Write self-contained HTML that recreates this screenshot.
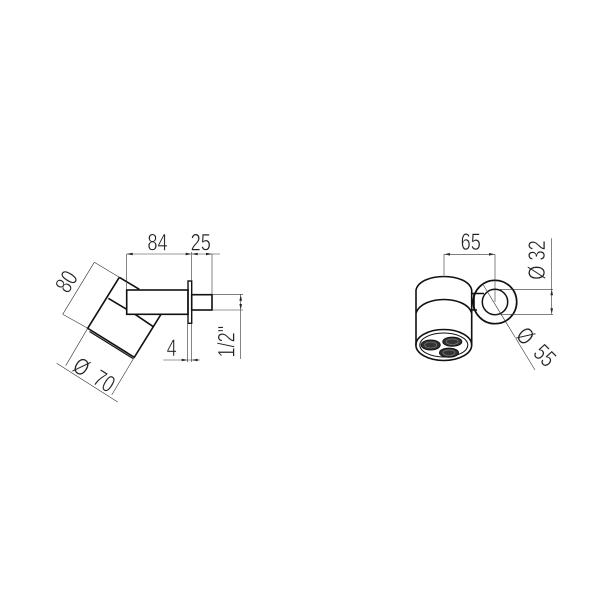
<!DOCTYPE html>
<html><head><meta charset="utf-8"><style>
html,body{margin:0;padding:0;background:#fff}
svg{display:block}
text{font-family:"Liberation Sans",sans-serif;font-size:24px;fill:#222;stroke:#fff;stroke-width:.5px;text-anchor:middle;dominant-baseline:central}
.k{stroke:#111;stroke-width:1.6;fill:none}
.d{stroke:#333;stroke-width:.6;fill:none}
.a{fill:#222;stroke:none}
</style></head><body>
<svg width="610" height="610" viewBox="0 0 610 610" xmlns="http://www.w3.org/2000/svg">
<rect width="610" height="610" fill="#fff"/>
<!-- left view -->
<g class="k">
<path d="M119.3 277.3L87.7 328.3L134.3 357.3L161 314.3"/>
<path d="M119.3 277.3L139.3 289.3M135 314.3L153.3 326.7M108.3 298.3L126.7 309.3"/>
<path d="M89.5 331.5L133 358.5" stroke-width="1.2"/>
<rect x="126.7" y="290" width="61.3" height="24.3"/>
<rect x="188" y="281" width="3.7" height="42.3" stroke-width="1.4"/>
<rect x="191.7" y="294.7" width="20.3" height="15.3"/>
</g>
<g class="d">
<path d="M126.7 254H188M191.7 254H220M126.7 254V290M191.7 252V281M212 254V294.7"/>
<path d="M94.3 262.3L62.7 314.3M94.3 262.3L119.3 277.3M62.7 314.3L87.7 328.3"/>
<path d="M56.7 363.3L117.7 402M87.7 328.3L65.7 365.7M134.3 357.3L111.7 395"/>
<path d="M163.3 360H200M187.7 323V362M191.7 323V362"/>
<path d="M212 294.7H243M212 310H243M240.7 294V359"/>
</g>
<g class="a">
<path d="M126.7 254l6-1.3v2.6zM191.7 254l-6-1.3v2.6zM191.7 254l6-1.3v2.6zM212 254l-6-1.3v2.6z"/>
<path d="M187.7 360l-6-1.3v2.6zM191.7 360l6-1.3v2.6z"/>
<path d="M240.7 294.7l-1.3 6h2.6zM240.7 310l-1.3-6h2.6z"/>
<path d="M444 254.3l6-1.3v2.6zM495 254.3l-6-1.3v2.6z"/>
<path d="M551.7 289.3l-1.3 6h2.6zM551.7 314.3l-1.3-6h2.6z"/>
</g>
<text transform="translate(157.5 242.5) scale(.76 1)">84</text>
<text transform="translate(200.7 242.5) scale(.76 1)">25</text>
<text transform="translate(171.7 348) scale(.76 1)">4</text>
<text transform="translate(226.7 341.7) rotate(-90) scale(.76 1)">1/2"</text>
<text transform="translate(66.7 281.7) rotate(-58) scale(.76 1)">80</text>
<text transform="translate(94 375) rotate(32) scale(.76 1)" style="word-spacing:6px">Ø 70</text>
<!-- right view -->
<g class="k">
<circle cx="495" cy="302" r="21.7" stroke-width="1.7"/>
<circle cx="495" cy="302" r="12.7" stroke-width="1.5"/>
<path d="M416 290C420 272 468 272 471.7 290"/>
<path d="M416 313C422 295 466 295 471.7 313"/>
<path d="M416 290V345M471.7 290V345"/>
<ellipse cx="443.8" cy="345" rx="27.9" ry="15.5"/>
<ellipse cx="443.8" cy="345" rx="24" ry="12" stroke-width="1"/>
<path d="M471.7 293.5H484M471.7 310H477M474 293.5V310"/>
</g>
<g fill="#333" stroke="#111" stroke-width="1">
<ellipse cx="430.7" cy="345" rx="9.5" ry="5"/>
<ellipse cx="452.3" cy="341.7" rx="9.5" ry="4.6"/>
<ellipse cx="449" cy="352.7" rx="9.5" ry="4.6"/>
</g>
<g fill="none" stroke="#888" stroke-width=".6">
<ellipse cx="430.7" cy="345" rx="6" ry="3"/>
<ellipse cx="452.3" cy="341.7" rx="6" ry="2.8"/>
<ellipse cx="449" cy="352.7" rx="6" ry="2.8"/>
</g>
<g class="d">
<path d="M444 254.3H495M444 254.3V275M495 254.3V302"/>
<path d="M500 289.3H553M495 314.3H553M551.7 238.3V314.3"/>
<path d="M483.3 285L535 370"/>
</g>
<text transform="translate(470.7 242.3) scale(.76 1)">65</text>
<text transform="translate(537 260) rotate(-90) scale(.76 1)">Ø 32</text>
<text transform="translate(536 347) rotate(45) scale(.76 1)" style="word-spacing:7px">Ø 55</text>
</svg>
</body></html>
